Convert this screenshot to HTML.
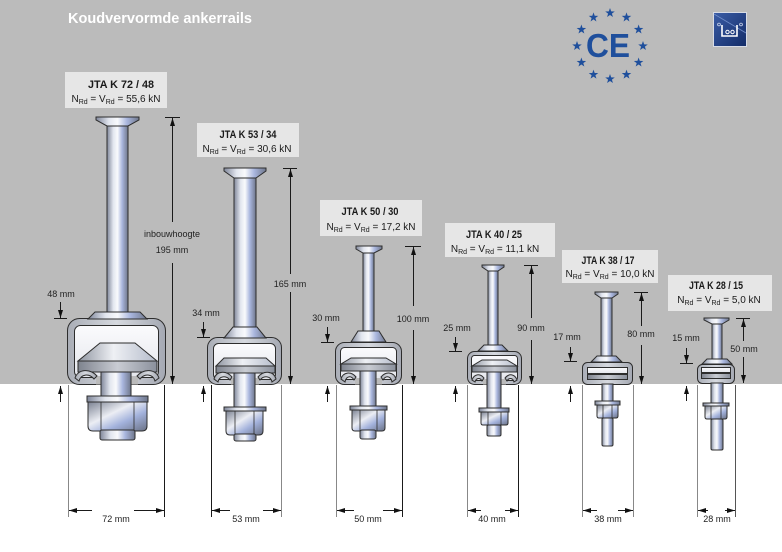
<!DOCTYPE html>
<html><head><meta charset="utf-8"><style>
html,body{margin:0;padding:0;background:#fff;}
body{width:782px;height:552px;overflow:hidden;}
svg{display:block;}
.d{font-family:"Liberation Sans",sans-serif;font-size:9px;fill:#222;text-anchor:middle;}
.t1{font-family:"Liberation Sans",sans-serif;font-size:11px;font-weight:bold;fill:#1a1a1a;text-anchor:middle;}
.t2{font-family:"Liberation Sans",sans-serif;font-size:10px;fill:#1a1a1a;text-anchor:middle;}
</style></head><body>
<svg width="782" height="552" viewBox="0 0 782 552" xmlns="http://www.w3.org/2000/svg">
<defs>
<linearGradient id="gs" x1="0" y1="0" x2="1" y2="0">
<stop offset="0" stop-color="#7f8699"/><stop offset="0.3" stop-color="#e2e6ef"/><stop offset="0.5" stop-color="#f9fafc"/><stop offset="0.72" stop-color="#a9b6de"/><stop offset="1" stop-color="#6f778b"/>
</linearGradient>
<linearGradient id="gr" x1="0" y1="0" x2="1" y2="0">
<stop offset="0" stop-color="#a9adb6"/><stop offset="0.5" stop-color="#d6d9df"/><stop offset="1" stop-color="#a4a8b2"/>
</linearGradient>
<linearGradient id="gw" x1="0" y1="0" x2="0" y2="1">
<stop offset="0" stop-color="#fbfbfd"/><stop offset="1" stop-color="#e4e6ec"/>
</linearGradient>
<linearGradient id="gt" x1="0" y1="0" x2="1" y2="0">
<stop offset="0" stop-color="#8f95a1"/><stop offset="0.45" stop-color="#eef0f4"/><stop offset="1" stop-color="#b5bccb"/>
</linearGradient>
<linearGradient id="gb" x1="0" y1="0" x2="1" y2="0">
<stop offset="0" stop-color="#7e838e"/><stop offset="0.5" stop-color="#c9ccd3"/><stop offset="1" stop-color="#8a909c"/>
</linearGradient>
<linearGradient id="gn" x1="0" y1="0" x2="1" y2="1">
<stop offset="0" stop-color="#7b8292"/><stop offset="0.4" stop-color="#eceef4"/><stop offset="0.65" stop-color="#a3b2dc"/><stop offset="1" stop-color="#6a7184"/>
</linearGradient>
<linearGradient id="gi" x1="0" y1="0" x2="1" y2="1">
<stop offset="0" stop-color="#3a5ca6"/><stop offset="1" stop-color="#132c68"/>
</linearGradient>
<marker id="ah" viewBox="0 0 8 5" refX="8" refY="2.5" markerWidth="8" markerHeight="5" markerUnits="userSpaceOnUse" orient="auto">
<path d="M0,0L8,2.5L0,5Z" fill="#111"/>
</marker>
<path id="st" d="M0,-5L1.18,-1.62L4.76,-1.55L1.9,0.62L2.94,4.05L0,2L-2.94,4.05L-1.9,0.62L-4.76,-1.55L-1.18,-1.62Z" fill="#1f4f9c"/>
</defs>

<rect width="782" height="552" fill="#fff"/>
<rect width="782" height="384" fill="#bbbbbb"/>

<text x="68" y="23" font-family="Liberation Sans, sans-serif" font-size="15" font-weight="bold" fill="#fff" textLength="184" lengthAdjust="spacingAndGlyphs">Koudvervormde ankerrails</text>

<!-- CE logo -->
<use href="#st" transform="translate(610,13)"/>
<use href="#st" transform="translate(626.5,17.4)"/>
<use href="#st" transform="translate(638.6,29.5)"/>
<use href="#st" transform="translate(643,46)"/>
<use href="#st" transform="translate(638.6,62.5)"/>
<use href="#st" transform="translate(626.5,74.6)"/>
<use href="#st" transform="translate(610,79)"/>
<use href="#st" transform="translate(593.5,74.6)"/>
<use href="#st" transform="translate(581.4,62.5)"/>
<use href="#st" transform="translate(577,46)"/>
<use href="#st" transform="translate(581.4,29.5)"/>
<use href="#st" transform="translate(593.5,17.4)"/>
<text x="586" y="57" font-family="Liberation Sans, sans-serif" font-size="33" font-weight="bold" fill="#1f4f9c" textLength="44" lengthAdjust="spacingAndGlyphs">CE</text>

<!-- icon -->
<rect x="713.5" y="12.5" width="33" height="34" fill="url(#gi)" stroke="#d8dce6" stroke-width="1"/>
<path d="M714,14L746,33" stroke="#6f8cc8" stroke-width="0.8"/>
<path d="M722,25V36H737V25" fill="none" stroke="#fff" stroke-width="1.6"/>
<circle cx="727.5" cy="32" r="1.7" fill="none" stroke="#fff" stroke-width="1"/>
<circle cx="732.5" cy="32" r="1.7" fill="none" stroke="#fff" stroke-width="1"/>
<circle cx="719" cy="24.5" r="1.4" fill="none" stroke="#cfd8ee" stroke-width="0.8"/>
<circle cx="741" cy="24.5" r="1.4" fill="none" stroke="#cfd8ee" stroke-width="0.8"/>

<!-- Labels -->
<rect x="65" y="72" width="102" height="36" fill="#e6e6e6"/>
<text class="t1" x="121" y="88" font-size="12" textLength="66" lengthAdjust="spacingAndGlyphs">JTA K 72 / 48</text>
<text class="t2" x="116" y="102">N<tspan font-size="7" dy="2">Rd</tspan><tspan dy="-2"> = V</tspan><tspan font-size="7" dy="2">Rd</tspan><tspan dy="-2"> = 55,6 kN</tspan></text>

<rect x="197" y="123" width="102" height="34" fill="#e6e6e6"/>
<text class="t1" x="248" y="138" textLength="57" lengthAdjust="spacingAndGlyphs">JTA K 53 / 34</text>
<text class="t2" x="247" y="152">N<tspan font-size="7" dy="2">Rd</tspan><tspan dy="-2"> = V</tspan><tspan font-size="7" dy="2">Rd</tspan><tspan dy="-2"> = 30,6 kN</tspan></text>

<rect x="320" y="200" width="102" height="36" fill="#e6e6e6"/>
<text class="t1" x="370" y="215" textLength="57" lengthAdjust="spacingAndGlyphs">JTA K 50 / 30</text>
<text class="t2" x="371" y="230">N<tspan font-size="7" dy="2">Rd</tspan><tspan dy="-2"> = V</tspan><tspan font-size="7" dy="2">Rd</tspan><tspan dy="-2"> = 17,2 kN</tspan></text>

<rect x="445" y="223" width="110" height="34" fill="#e6e6e6"/>
<text class="t1" x="494" y="238" textLength="56" lengthAdjust="spacingAndGlyphs">JTA K 40 / 25</text>
<text class="t2" x="495" y="252">N<tspan font-size="7" dy="2">Rd</tspan><tspan dy="-2"> = V</tspan><tspan font-size="7" dy="2">Rd</tspan><tspan dy="-2"> = 11,1 kN</tspan></text>

<rect x="562" y="250" width="96" height="33" fill="#e6e6e6"/>
<text class="t1" x="608" y="264" textLength="53" lengthAdjust="spacingAndGlyphs">JTA K 38 / 17</text>
<text class="t2" x="610" y="277">N<tspan font-size="7" dy="2">Rd</tspan><tspan dy="-2"> = V</tspan><tspan font-size="7" dy="2">Rd</tspan><tspan dy="-2"> = 10,0 kN</tspan></text>

<rect x="668" y="275" width="104" height="36" fill="#e6e6e6"/>
<text class="t1" x="716" y="289" textLength="54" lengthAdjust="spacingAndGlyphs">JTA K 28 / 15</text>
<text class="t2" x="719" y="303">N<tspan font-size="7" dy="2">Rd</tspan><tspan dy="-2"> = V</tspan><tspan font-size="7" dy="2">Rd</tspan><tspan dy="-2"> = 5,0 kN</tspan></text>

<g stroke="#2d2d2d" stroke-width="1">
<!-- A1 -->
<rect x="107" y="124" width="21" height="192" fill="url(#gs)"/>
<path d="M96,117H139V120L128,126H107L96,120Z" fill="url(#gs)"/>
<rect x="67.5" y="318.5" width="98" height="66" rx="12" fill="url(#gr)"/>
<rect x="74.5" y="325.5" width="84" height="52" rx="6" fill="url(#gw)"/>
<path d="M95,312H140L147,319H88Z" fill="url(#gs)"/>
<path d="M100,343H135L157,361H78Z" fill="url(#gt)"/>
<rect x="78" y="361" width="79" height="11" fill="url(#gb)"/>
<rect x="96" y="376" width="42" height="8.5" fill="#bbbbbb" stroke="none"/>
<path d="M75,378C78,369 90,368 97,376L94,379C89,373 81,374 79,381Z" fill="url(#gr)"/>
<path d="M159,378C156,369 144,368 137,376L140,379C145,373 153,374 155,381Z" fill="url(#gr)"/>
<rect x="101" y="372" width="30" height="25" fill="url(#gs)"/>
<rect x="87" y="396" width="61" height="6" fill="url(#gs)"/>
<path d="M88,402H147V426Q147,431 142,431H93Q88,431 88,426Z" fill="url(#gn)"/>
<path d="M101,402V431M134,402V431" stroke-width="0.8"/>
<rect x="100" y="430" width="35" height="10" rx="2" fill="url(#gs)"/>

<!-- A2 -->
<rect x="234" y="176" width="22" height="154" fill="url(#gs)"/>
<path d="M224,168H266V171L256,178H234L224,171Z" fill="url(#gs)"/>
<rect x="207.5" y="337.5" width="74" height="47" rx="10" fill="url(#gr)"/>
<rect x="213.5" y="343.5" width="62" height="36" rx="5" fill="url(#gw)"/>
<path d="M233,327H257L266,338H224Z" fill="url(#gs)"/>
<path d="M224,358H266L275,366H216Z" fill="url(#gt)"/>
<rect x="216" y="366" width="59" height="7" fill="url(#gb)"/>
<rect x="231" y="378" width="28" height="6.5" fill="#bbbbbb" stroke="none"/>
<path d="M214,379C216,371 226,370 232,377L230,380C226,375 219,376 218,382Z" fill="url(#gr)"/>
<path d="M276,379C274,371 264,370 258,377L260,380C264,375 271,376 272,382Z" fill="url(#gr)"/>
<rect x="234" y="373" width="21" height="34" fill="url(#gs)"/>
<rect x="224" y="407" width="42" height="4" fill="url(#gs)"/>
<path d="M226,411H263V431Q263,435 259,435H230Q226,435 226,431Z" fill="url(#gn)"/>
<path d="M235,411V435M254,411V435" stroke-width="0.8"/>
<rect x="234" y="434" width="22" height="7" rx="2" fill="url(#gs)"/>

<!-- A3 -->
<rect x="363" y="251" width="11" height="82" fill="url(#gs)"/>
<path d="M356,246H382V249L374,253H363L356,249Z" fill="url(#gs)"/>
<rect x="335.5" y="342.5" width="66" height="42" rx="9" fill="url(#gr)"/>
<rect x="340.5" y="347.5" width="56" height="32" rx="4" fill="url(#gw)"/>
<path d="M358,331H379L386,342H351Z" fill="url(#gs)"/>
<path d="M351,358H386L396,364H341Z" fill="url(#gt)"/>
<rect x="341" y="364" width="55" height="7" fill="url(#gb)"/>
<rect x="355" y="378" width="27" height="6.5" fill="#bbbbbb" stroke="none"/>
<path d="M341,379C343,372 351,371 356,377L354,380C351,375 346,376 345,382Z" fill="url(#gr)"/>
<path d="M396,379C394,372 386,371 381,377L383,380C386,375 391,376 392,382Z" fill="url(#gr)"/>
<rect x="360" y="371" width="16" height="35" fill="url(#gs)"/>
<rect x="350" y="406" width="37" height="4" fill="url(#gs)"/>
<path d="M352,410H385V428Q385,431 382,431H355Q352,431 352,428Z" fill="url(#gn)"/>
<path d="M360,410V431M377,410V431" stroke-width="0.8"/>
<rect x="360" y="430" width="16" height="9" rx="2" fill="url(#gs)"/>

<!-- A4 -->
<rect x="488" y="269" width="10" height="78" fill="url(#gs)"/>
<path d="M482,265H504V267L498,271H488L482,267Z" fill="url(#gs)"/>
<rect x="467.5" y="351.5" width="54" height="33" rx="7" fill="url(#gr)"/>
<rect x="471.5" y="355.5" width="46" height="25" rx="3" fill="url(#gw)"/>
<path d="M484,345H502L508,351H478Z" fill="url(#gs)"/>
<path d="M482,360H507L517,366H472Z" fill="url(#gt)"/>
<rect x="472" y="366" width="45" height="6" fill="url(#gb)"/>
<rect x="483" y="379" width="23" height="5.5" fill="#bbbbbb" stroke="none"/>
<path d="M472,380C474,374 480,373 484,378L482,381C480,377 476,378 475,382Z" fill="url(#gr)"/>
<path d="M517,380C515,374 509,373 505,378L507,381C509,377 513,378 514,382Z" fill="url(#gr)"/>
<rect x="487" y="372" width="14" height="37" fill="url(#gs)"/>
<rect x="479" y="408" width="30" height="4" fill="url(#gs)"/>
<path d="M481,412H508V423Q508,425 506,425H483Q481,425 481,423Z" fill="url(#gn)"/>
<path d="M488,412V425M501,412V425" stroke-width="0.8"/>
<rect x="487" y="425" width="14" height="11" rx="1.5" fill="url(#gs)"/>

<!-- A5 -->
<rect x="601" y="296" width="11" height="62" fill="url(#gs)"/>
<path d="M595,292H618V294L612,298H601L595,294Z" fill="url(#gs)"/>
<rect x="582.5" y="362.5" width="50" height="22" rx="5" fill="url(#gr)"/>
<rect x="587.5" y="367.5" width="40" height="6" fill="url(#gw)"/>
<rect x="587.5" y="374.5" width="40" height="5" fill="url(#gb)"/>
<path d="M597,356H616L622,362H591Z" fill="url(#gs)"/>
<rect x="602" y="384" width="11" height="18" fill="url(#gs)"/>
<rect x="595" y="401" width="25" height="4" fill="url(#gs)"/>
<path d="M597,405H618V416Q618,418 616,418H599Q597,418 597,416Z" fill="url(#gn)"/>
<path d="M603,405V418M612,405V418" stroke-width="0.8"/>
<rect x="602" y="418" width="11" height="28" rx="1.5" fill="url(#gs)"/>

<!-- A6 -->
<rect x="712" y="322" width="10" height="39" fill="url(#gs)"/>
<path d="M704,318H729V320L722,324H712L704,320Z" fill="url(#gs)"/>
<rect x="697.5" y="364.5" width="37" height="19" rx="5" fill="url(#gr)"/>
<rect x="701.5" y="367.5" width="29" height="5" fill="url(#gw)"/>
<rect x="701.5" y="373.5" width="29" height="5" fill="url(#gb)"/>
<path d="M707,359H727L732,364H702Z" fill="url(#gs)"/>
<rect x="711" y="383" width="12" height="20" fill="url(#gs)"/>
<rect x="703" y="403" width="26" height="3" fill="url(#gs)"/>
<path d="M705,406H727V417Q727,419 725,419H707Q705,419 705,417Z" fill="url(#gn)"/>
<path d="M711,406V419M721,406V419" stroke-width="0.8"/>
<rect x="711" y="419" width="12" height="31" rx="1.5" fill="url(#gs)"/>
</g>

<!-- Dimension lines -->
<g stroke="#1a1a1a" stroke-width="1" fill="none">
<!-- A1 -->
<line x1="165" y1="117.5" x2="180" y2="117.5"/>
<line x1="172.5" y1="222" x2="172.5" y2="118" marker-end="url(#ah)"/>
<line x1="172.5" y1="263" x2="172.5" y2="384" marker-end="url(#ah)"/>
<line x1="60.5" y1="302" x2="60.5" y2="318" marker-end="url(#ah)"/>
<line x1="54" y1="318.5" x2="67" y2="318.5"/>
<line x1="60.5" y1="402" x2="60.5" y2="386" marker-end="url(#ah)"/>
<line x1="68.5" y1="385" x2="68.5" y2="517" stroke="#888"/>
<line x1="164.5" y1="385" x2="164.5" y2="517"/>
<line x1="92" y1="510.5" x2="69" y2="510.5" marker-end="url(#ah)"/>
<line x1="134" y1="510.5" x2="164" y2="510.5" marker-end="url(#ah)"/>
<!-- A2 -->
<line x1="283" y1="168.5" x2="297" y2="168.5"/>
<line x1="290.5" y1="274" x2="290.5" y2="169" marker-end="url(#ah)"/>
<line x1="290.5" y1="292" x2="290.5" y2="384" marker-end="url(#ah)"/>
<line x1="203.5" y1="322" x2="203.5" y2="337" marker-end="url(#ah)"/>
<line x1="197" y1="337.5" x2="210" y2="337.5"/>
<line x1="203.5" y1="402" x2="203.5" y2="386" marker-end="url(#ah)"/>
<line x1="211.5" y1="385" x2="211.5" y2="517"/>
<line x1="281.5" y1="385" x2="281.5" y2="517" stroke="#888"/>
<line x1="230" y1="510.5" x2="212" y2="510.5" marker-end="url(#ah)"/>
<line x1="263" y1="510.5" x2="281" y2="510.5" marker-end="url(#ah)"/>
<!-- A3 -->
<line x1="405" y1="246.5" x2="421" y2="246.5"/>
<line x1="413.5" y1="306" x2="413.5" y2="247" marker-end="url(#ah)"/>
<line x1="413.5" y1="330" x2="413.5" y2="384" marker-end="url(#ah)"/>
<line x1="327.5" y1="327" x2="327.5" y2="342" marker-end="url(#ah)"/>
<line x1="321" y1="342.5" x2="334" y2="342.5"/>
<line x1="327.5" y1="402" x2="327.5" y2="386" marker-end="url(#ah)"/>
<line x1="336.5" y1="385" x2="336.5" y2="517" stroke="#888"/>
<line x1="402.5" y1="385" x2="402.5" y2="517"/>
<line x1="354" y1="510.5" x2="337" y2="510.5" marker-end="url(#ah)"/>
<line x1="383" y1="510.5" x2="402" y2="510.5" marker-end="url(#ah)"/>
<!-- A4 -->
<line x1="524" y1="265.5" x2="538" y2="265.5"/>
<line x1="531.5" y1="318" x2="531.5" y2="266" marker-end="url(#ah)"/>
<line x1="531.5" y1="340" x2="531.5" y2="384" marker-end="url(#ah)"/>
<line x1="455.5" y1="337" x2="455.5" y2="351" marker-end="url(#ah)"/>
<line x1="449" y1="351.5" x2="462" y2="351.5"/>
<line x1="455.5" y1="402" x2="455.5" y2="386" marker-end="url(#ah)"/>
<line x1="467.5" y1="385" x2="467.5" y2="517" stroke="#888"/>
<line x1="518.5" y1="385" x2="518.5" y2="517"/>
<line x1="481" y1="510.5" x2="468" y2="510.5" marker-end="url(#ah)"/>
<line x1="505" y1="510.5" x2="518" y2="510.5" marker-end="url(#ah)"/>
<!-- A5 -->
<line x1="634" y1="292.5" x2="648" y2="292.5"/>
<line x1="641.5" y1="326" x2="641.5" y2="293" marker-end="url(#ah)"/>
<line x1="641.5" y1="345" x2="641.5" y2="384" marker-end="url(#ah)"/>
<line x1="570.5" y1="347" x2="570.5" y2="361" marker-end="url(#ah)"/>
<line x1="564" y1="361.5" x2="577" y2="361.5"/>
<line x1="570.5" y1="402" x2="570.5" y2="386" marker-end="url(#ah)"/>
<line x1="582.5" y1="385" x2="582.5" y2="517" stroke="#888"/>
<line x1="633.5" y1="385" x2="633.5" y2="517" stroke="#888"/>
<line x1="597" y1="510.5" x2="583" y2="510.5" marker-end="url(#ah)"/>
<line x1="618" y1="510.5" x2="633" y2="510.5" marker-end="url(#ah)"/>
<!-- A6 -->
<line x1="736" y1="318.5" x2="750" y2="318.5"/>
<line x1="743.5" y1="341" x2="743.5" y2="319" marker-end="url(#ah)"/>
<line x1="743.5" y1="357" x2="743.5" y2="383" marker-end="url(#ah)"/>
<line x1="686.5" y1="348" x2="686.5" y2="363" marker-end="url(#ah)"/>
<line x1="680" y1="363.5" x2="693" y2="363.5"/>
<line x1="686.5" y1="401" x2="686.5" y2="386" marker-end="url(#ah)"/>
<line x1="697.5" y1="385" x2="697.5" y2="517" stroke="#888"/>
<line x1="735.5" y1="385" x2="735.5" y2="517" stroke="#555"/>
<line x1="708" y1="510.5" x2="698" y2="510.5" marker-end="url(#ah)"/>
<line x1="725" y1="510.5" x2="735" y2="510.5" marker-end="url(#ah)"/>
</g>

<!-- Dimension texts -->
<text class="d" x="172" y="237">inbouwhoogte</text>
<text class="d" x="172" y="253">195 mm</text>
<text class="d" x="61" y="297">48 mm</text>
<text class="d" x="116" y="522">72 mm</text>

<text class="d" x="290" y="287">165 mm</text>
<text class="d" x="206" y="316">34 mm</text>
<text class="d" x="246" y="522">53 mm</text>

<text class="d" x="413" y="322">100 mm</text>
<text class="d" x="326" y="321">30 mm</text>
<text class="d" x="368" y="522">50 mm</text>

<text class="d" x="531" y="331">90 mm</text>
<text class="d" x="457" y="331">25 mm</text>
<text class="d" x="492" y="522">40 mm</text>

<text class="d" x="641" y="337">80 mm</text>
<text class="d" x="567" y="340">17 mm</text>
<text class="d" x="608" y="522">38 mm</text>

<text class="d" x="744" y="352">50 mm</text>
<text class="d" x="686" y="341">15 mm</text>
<text class="d" x="717" y="522">28 mm</text>
</svg>
</body></html>
